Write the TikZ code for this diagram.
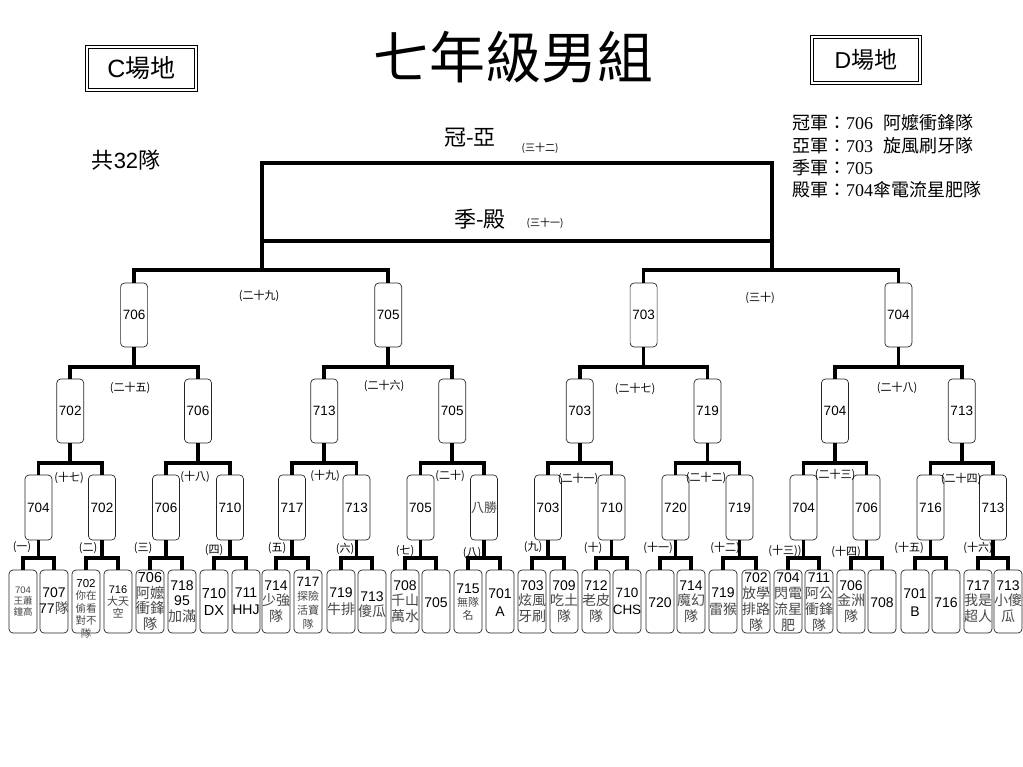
\documentclass[tikz,border=0pt]{standalone}
\usepackage{fontspec}
\setmainfont{Liberation Sans}
\newfontfamily\cjk{Noto Sans CJK TC}
\newfontfamily\numserif{Liberation Serif}
\newcommand\ZH[1]{{\cjk #1}}
\newcommand\ZG[1]{{\cjk\color{black!72}#1}}
\newcommand\fs[2]{\fontsize{#1}{#2}\selectfont}
\begin{document}
\begin{tikzpicture}[x=1pt,y=-1pt,
  conn/.style={line width=3.6pt},
  box/.style={draw=black!85,line width=0.7pt,rounded corners=4pt,fill=white,minimum width=27pt,inner sep=0pt},
  leafbox/.style={box,minimum width=28pt,minimum height=63pt},
  r3box/.style={box,minimum height=65pt},
  r2box/.style={box,minimum height=64pt},
  r1box/.style={box,minimum height=64pt},
  btxt/.style={font=\fs{13.5}{15}},
  ltxt/.style={inner sep=0pt,align=center},
  lab/.style={inner sep=0pt,font=\cjk\fs{11}{12}},
  slab/.style={inner sep=0pt,font=\cjk\fs{10}{11}},
  legend/.style={inner sep=0pt,anchor=west,font=\cjk\fs{18}{20}},
  field/.style={draw,line width=0.6pt,inner sep=0pt,minimum width=109pt,minimum height=43pt,
     double,double distance=2pt}]
\useasboundingbox (0,0) rectangle (1023,767);
\newcommand\leaf[5]{%
  \node[leafbox] (#1) at (#2,601.5) {};
  \node[ltxt,font=#3,yshift=#4] (#1t) at (#1.center) {#5};}
\newcommand\elbow[4]{%
  \draw[conn] (#1.south) -- (#1.south |- #4);
  \draw[conn] (#2.north) -- (#2.north |- #4) -- (#3.north |- #4) -- (#3.north);}
\coordinate (yA) at (0,270);
\coordinate (yB) at (0,367);
\coordinate (yC) at (0,463);
\coordinate (yD) at (0,558);
% ---- header texts
\node[inner sep=0pt,font=\cjk\fs{56}{60}] (title) at (513,57) {七年級男組};
\node[field] (cbox) at (141.5,68.5) {};
\node[inner sep=0pt,font=\fs{25}{28}] (ctxt) at (cbox.center) {C\ZH{場地}};
\node[field,minimum width=108pt,minimum height=46pt] (dbox) at (866,60) {};
\node[inner sep=0pt,font=\fs{23}{26}] (dtxt) at (dbox.center) {D\ZH{場地}};
\node[inner sep=0pt,font=\fs{22}{24}] (total) at (126,160) {\ZH{共}32\ZH{隊}};
\node[inner sep=0pt,font=\cjk\fs{22}{24}] (gy) at (470,138) {冠-亞};
\node[slab] (g32) at (540,148) {(三十二)};
\node[inner sep=0pt,font=\cjk\fs{22}{24}] (jd) at (480,219) {季-殿};
\node[slab] (g31) at (545,223) {(三十一)};
\node[legend] (lg1) at (792,123) {冠軍：{\numserif 706}\hspace{10pt}阿嬤衝鋒隊};
\node[legend] (lg2) at (792,146) {亞軍：{\numserif 703}\hspace{10pt}旋風刷牙隊};
\node[legend] (lg3) at (792,168) {季軍：{\numserif 705}};
\node[legend] (lg4) at (792,190) {殿軍：{\numserif 704}傘電流星肥隊};
% ---- leaves
\leaf{L1}{23}{\fs{9.5}{11}\color{black!72}}{0pt}{704\\\ZH{王蕭}\\\ZH{鐘高}}
\leaf{L2}{54}{\fs{14}{16}}{0pt}{707\\77\ZG{隊}}
\leaf{L3}{86}{\fs{10.5}{12.5}}{-7pt}{{\fs{11.5}{12.5}702}\\\ZG{你在}\\\ZG{偷看}\\\ZG{對不}\\\ZG{隊}}
\leaf{L4}{118}{\fs{11}{12}}{0pt}{716\\\ZG{大天}\\\ZG{空}}
\leaf{L5}{150}{\fs{14.5}{15.5}}{0pt}{706\\\ZG{阿嬤}\\\ZG{衝鋒}\\\ZG{隊}}
\leaf{L6}{182}{\fs{14}{15.5}}{0pt}{718\\95\\\ZG{加滿}}
\leaf{L7}{214}{\fs{14.5}{17}}{0pt}{710\\DX}
\leaf{L8}{246}{\fs{14}{17}}{0pt}{711\\HHJ}
\leaf{L9}{276}{\fs{14}{15.5}}{0pt}{714\\\ZG{少強}\\\ZG{隊}}
\leaf{L10}{308}{\fs{11}{14}}{-2pt}{{\fs{13.5}{14}717}\\\ZG{探險}\\\ZG{活寶}\\\ZG{隊}}
\leaf{L11}{341}{\fs{14}{17}}{0pt}{719\\\ZG{牛排}}
\leaf{L12}{372}{\fs{14}{15}}{-3pt}{713\\\ZG{傻瓜}}
\leaf{L13}{405}{\fs{14}{15.5}}{0pt}{708\\\ZG{千山}\\\ZG{萬水}}
\leaf{L14}{436}{\fs{14}{15}}{-1pt}{705}
\leaf{L15}{468}{\fs{11}{13}}{-1pt}{{\fs{14}{13}715}\\\ZG{無隊}\\\ZG{名}}
\leaf{L16}{500}{\fs{14}{18}}{-1pt}{701\\A}
\leaf{L17}{532}{\fs{14}{15.5}}{0pt}{703\\\ZG{炫風}\\\ZG{牙刷}}
\leaf{L18}{564}{\fs{14}{15.5}}{0pt}{709\\\ZG{吃土}\\\ZG{隊}}
\leaf{L19}{596}{\fs{14}{15.5}}{0pt}{712\\\ZG{老皮}\\\ZG{隊}}
\leaf{L20}{627}{\fs{13.5}{17}}{0pt}{710\\CHS}
\leaf{L21}{660}{\fs{14}{15}}{-1pt}{720}
\leaf{L22}{691}{\fs{14}{15.5}}{0pt}{714\\\ZG{魔幻}\\\ZG{隊}}
\leaf{L23}{723}{\fs{14}{17}}{0pt}{719\\\ZG{雷猴}}
\leaf{L24}{756}{\fs{14}{16}}{-1pt}{702\\\ZG{放學}\\\ZG{排路}\\\ZG{隊}}
\leaf{L25}{788}{\fs{14}{16}}{-1pt}{704\\\ZG{閃電}\\\ZG{流星}\\\ZG{肥}}
\leaf{L26}{819}{\fs{14}{16}}{-1pt}{711\\\ZG{阿公}\\\ZG{衝鋒}\\\ZG{隊}}
\leaf{L27}{851}{\fs{14}{15.5}}{0pt}{706\\\ZG{金洲}\\\ZG{隊}}
\leaf{L28}{882}{\fs{14}{15}}{-1pt}{708}
\leaf{L29}{915}{\fs{14}{18}}{-1pt}{701\\B}
\leaf{L30}{946}{\fs{14}{15}}{-1pt}{716}
\leaf{L31}{978}{\fs{14}{15.5}}{0pt}{717\\\ZG{我是}\\\ZG{超人}}
\leaf{L32}{1008}{\fs{14}{15.5}}{0pt}{713\\\ZG{小傻}\\\ZG{瓜}}
% ---- round of 16
\node[r3box,btxt] (C1) at (38.5,507.5) {704};
\node[r3box,btxt] (C2) at (102,507.5) {702};
\node[r3box,btxt] (C3) at (166,507.5) {706};
\node[r3box,btxt] (C4) at (230,507.5) {710};
\node[r3box,btxt] (C5) at (292,507.5) {717};
\node[r3box,btxt] (C6) at (356.5,507.5) {713};
\node[r3box,btxt] (C7) at (420.5,507.5) {705};
\node[r3box,font=\cjk\fs{13}{15},text=black!72] (C8) at (484,507.5) {八勝};
\node[r3box,btxt] (C9) at (548,507.5) {703};
\node[r3box,btxt] (C10) at (611.5,507.5) {710};
\node[r3box,btxt] (C11) at (675.5,507.5) {720};
\node[r3box,btxt] (C12) at (739.5,507.5) {719};
\node[r3box,btxt] (C13) at (803.5,507.5) {704};
\node[r3box,btxt] (C14) at (866.5,507.5) {706};
\node[r3box,btxt] (C15) at (930.5,507.5) {716};
\node[r3box,btxt] (C16) at (993,507.5) {713};
% ---- quarter finals
\node[r2box,btxt] (B1) at (70.25,411) {702};
\node[r2box,btxt] (B2) at (198,411) {706};
\node[r2box,btxt] (B3) at (324.25,411) {713};
\node[r2box,btxt] (B4) at (452.25,411) {705};
\node[r2box,btxt] (B5) at (579.75,411) {703};
\node[r2box,btxt] (B6) at (707.5,411) {719};
\node[r2box,btxt] (B7) at (835,411) {704};
\node[r2box,btxt] (B8) at (961.75,411) {713};
% ---- semi finals
\node[r1box,btxt] (A1) at (134.1,315) {706};
\node[r1box,btxt] (A2) at (388.25,315) {705};
\node[r1box,btxt] (A3) at (643.6,315) {703};
\node[r1box,btxt] (A4) at (898.4,315) {704};
% ---- connectors
\elbow{C1}{L1}{L2}{yD}
\elbow{C2}{L3}{L4}{yD}
\elbow{C3}{L5}{L6}{yD}
\elbow{C4}{L7}{L8}{yD}
\elbow{C5}{L9}{L10}{yD}
\elbow{C6}{L11}{L12}{yD}
\elbow{C7}{L13}{L14}{yD}
\elbow{C8}{L15}{L16}{yD}
\elbow{C9}{L17}{L18}{yD}
\elbow{C10}{L19}{L20}{yD}
\elbow{C11}{L21}{L22}{yD}
\elbow{C12}{L23}{L24}{yD}
\elbow{C13}{L25}{L26}{yD}
\elbow{C14}{L27}{L28}{yD}
\elbow{C15}{L29}{L30}{yD}
\elbow{C16}{L31}{L32}{yD}
\elbow{B1}{C1}{C2}{yC}
\elbow{B2}{C3}{C4}{yC}
\elbow{B3}{C5}{C6}{yC}
\elbow{B4}{C7}{C8}{yC}
\elbow{B5}{C9}{C10}{yC}
\elbow{B6}{C11}{C12}{yC}
\elbow{B7}{C13}{C14}{yC}
\elbow{B8}{C15}{C16}{yC}
\elbow{A1}{B1}{B2}{yB}
\elbow{A2}{B3}{B4}{yB}
\elbow{A3}{B5}{B6}{yB}
\elbow{A4}{B7}{B8}{yB}
\draw[conn] (A1.north) -- (A1.north |- yA) -- (A2.north |- yA) -- (A2.north);
\draw[conn] (A3.north) -- (A3.north |- yA) -- (A4.north |- yA) -- (A4.north);
\coordinate (TL) at (262,163);
\coordinate (TR) at (772,163);
\coordinate (BL) at (260.5,241);
\coordinate (BR) at (773.5,241);
\draw[conn] (TL |- yA) -- (TL) -- (TR) -- (TR |- yA);
\draw[conn] (BL) -- (BR);
% ---- match labels
\node[lab] (m1) at (22,547) {(一)};
\node[lab] (m2) at (88,548) {(二)};
\node[lab] (m3) at (143,548) {(三)};
\node[lab] (m4) at (214,550) {(四)};
\node[lab] (m5) at (277,548) {(五)};
\node[lab] (m6) at (345,549) {(六)};
\node[lab] (m7) at (405,551) {(七)};
\node[lab] (m8) at (472,553) {(八)};
\node[lab] (m9) at (533,547) {(九)};
\node[lab] (m10) at (593,548) {(十)};
\node[lab] (m11) at (658,548) {(十一)};
\node[lab] (m12) at (725,548) {(十二)};
\node[lab] (m13) at (785,551) {(十三))};
\node[lab] (m14) at (846,552) {(十四)};
\node[lab] (m15) at (909,548) {(十五)};
\node[lab] (m16) at (978,548) {(十六)};
\node[lab] (m17) at (69,478) {(十七)};
\node[lab] (m18) at (195,477) {(十八)};
\node[lab] (m19) at (325,476) {(十九)};
\node[lab] (m20) at (450,476) {(二十)};
\node[lab] (m21) at (578,479) {(二十一)};
\node[lab] (m22) at (706,478) {(二十二)};
\node[lab] (m23) at (835,475) {(二十三)};
\node[lab] (m24) at (961,479) {(二十四)};
\node[lab] (m25) at (130,388) {(二十五)};
\node[lab] (m26) at (384,386) {(二十六)};
\node[lab] (m27) at (635,389) {(二十七)};
\node[lab] (m28) at (897,388) {(二十八)};
\node[lab] (m29) at (259,296) {(二十九)};
\node[lab] (m30) at (760,298) {(三十)};
\end{tikzpicture}
\end{document}
